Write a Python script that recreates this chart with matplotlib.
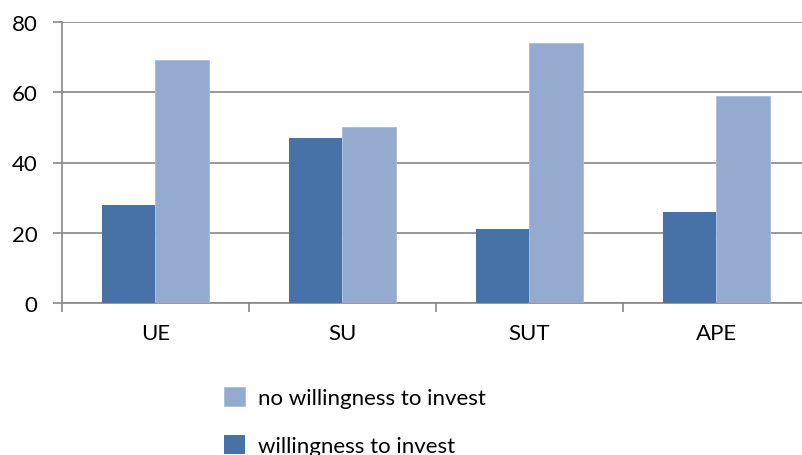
import numpy as np
import matplotlib
matplotlib.use("Agg")
import matplotlib.pyplot as plt

categories = ["UE", "SU", "SUT", "APE"]
willing = [28, 47, 21, 26]
not_willing = [69, 50, 74, 59]

DARK = "#4672A7"
LIGHT = "#95AACF"
GRID = "#878787"

plt.rcParams["font.family"] = ["Lato", "DejaVu Sans"]

fig = plt.figure(figsize=(8.03, 4.56), dpi=100)
ax = fig.add_axes([62 / 803, 1 - 304.3 / 456, 748 / 803, (304.3 - 22.7) / 456])

x = np.arange(len(categories))
w = 0.285
b1 = ax.bar(x - w / 2, willing, w, color=DARK, label="willingness to invest", zorder=3)
b2 = ax.bar(x + w / 2, not_willing, w, color=LIGHT, edgecolor="#A9BCDD", lw=0.6,
            label="no willingness to invest", zorder=3)

ax.set_xlim(-0.5, len(categories) - 0.5)
ax.set_ylim(0, 80)
ax.set_yticks(range(0, 81, 20))
ax.set_xticks(x)
ax.set_xticklabels(categories)
ax.set_xticks(np.arange(-0.5, len(categories), 1.0), minor=True)

ax.yaxis.grid(True, color=GRID, lw=1.2, zorder=0)
ax.set_axisbelow(True)
for s in ["top", "right"]:
    ax.spines[s].set_visible(False)
for s in ["left", "bottom"]:
    ax.spines[s].set_color(GRID)
    ax.spines[s].set_linewidth(1.2)

ax.tick_params(axis="y", length=6.5, width=1.2, color=GRID, pad=11, labelsize=16)
ax.tick_params(axis="x", which="major", length=0, pad=14, labelsize=16)
ax.tick_params(axis="x", which="minor", length=6.5, width=1.2, color=GRID)

fig.legend([b2, b1], ["no willingness to invest", "willingness to invest"],
           loc="upper left", bbox_to_anchor=(224 / 803, 1 - 388 / 456),
           frameon=False, fontsize=16, handlelength=0.95, handleheight=0.95,
           handletextpad=0.6, labelspacing=1.2, borderpad=0, borderaxespad=0)

fig.savefig("out.png", dpi=100)
